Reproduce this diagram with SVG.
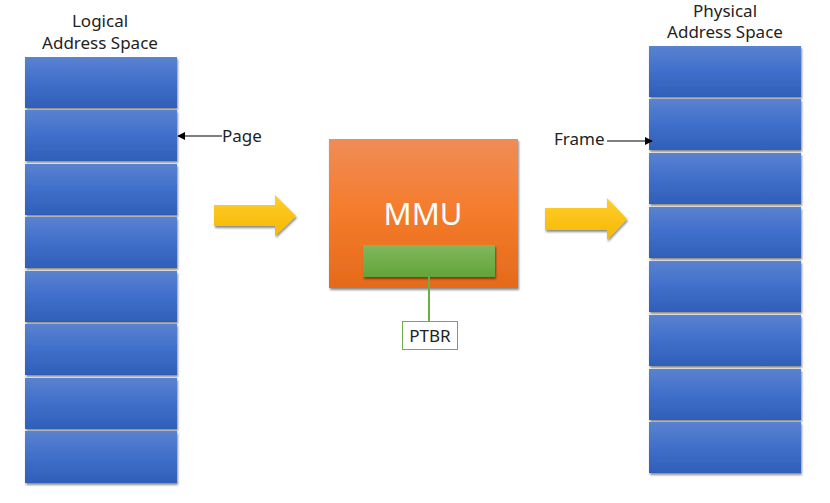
<svg xmlns="http://www.w3.org/2000/svg" width="830" height="503" viewBox="0 0 830 503">
<defs>
<linearGradient id="blue" x1="0" y1="0" x2="0" y2="1">
<stop offset="0" stop-color="#5a82cf"/>
<stop offset="0.5" stop-color="#3f6fcb"/>
<stop offset="1" stop-color="#2f5fb8"/>
</linearGradient>
<linearGradient id="orange" x1="0" y1="0" x2="0" y2="1">
<stop offset="0" stop-color="#f08c58"/>
<stop offset="0.5" stop-color="#f47b2a"/>
<stop offset="1" stop-color="#e56a1c"/>
</linearGradient>
<linearGradient id="green" x1="0" y1="0" x2="0" y2="1">
<stop offset="0" stop-color="#80b85c"/>
<stop offset="1" stop-color="#63a43a"/>
</linearGradient>
<linearGradient id="yellow" x1="0" y1="0" x2="0" y2="1">
<stop offset="0" stop-color="#ffce2e"/>
<stop offset="1" stop-color="#f5b800"/>
</linearGradient>
<filter id="sh" x="-10%" y="-10%" width="130%" height="130%">
<feDropShadow dx="1" dy="2" stdDeviation="1.2" flood-color="#000" flood-opacity="0.45"/>
</filter>
<marker id="ah" viewBox="0 0 10 10" refX="9" refY="5" markerWidth="8" markerHeight="8" markerUnits="userSpaceOnUse" orient="auto">
<path d="M0,0 L10,5 L0,10 z" fill="#000"/>
</marker>
</defs>
<style>
text{font-family:"Noto Sans","Open Sans","DejaVu Sans",sans-serif;fill:#222;}
.lbl{font-size:17px;text-anchor:middle;}
.blk{fill:url(#blue);filter:url(#sh);}
</style>
<g id="logical">
<text class="lbl" x="100" y="27">Logical</text>
<text class="lbl" x="100" y="49">Address Space</text>
<rect class="blk" x="25" y="57" width="152" height="51"/>
<rect class="blk" x="25" y="110" width="152" height="51"/>
<rect class="blk" x="25" y="164" width="152" height="51"/>
<rect class="blk" x="25" y="217" width="152" height="51"/>
<rect class="blk" x="25" y="271" width="152" height="51"/>
<rect class="blk" x="25" y="324" width="152" height="51"/>
<rect class="blk" x="25" y="378" width="152" height="51"/>
<rect class="blk" x="25" y="431" width="152" height="52"/>
</g>
<g id="physical">
<text class="lbl" x="725" y="17">Physical</text>
<text class="lbl" x="725" y="38">Address Space</text>
<rect class="blk" x="649" y="46" width="152" height="51"/>
<rect class="blk" x="649" y="99" width="152" height="51"/>
<rect class="blk" x="649" y="153" width="152" height="51"/>
<rect class="blk" x="649" y="207" width="152" height="51"/>
<rect class="blk" x="649" y="261" width="152" height="51"/>
<rect class="blk" x="649" y="315" width="152" height="51"/>
<rect class="blk" x="649" y="369" width="152" height="51"/>
<rect class="blk" x="649" y="422" width="152" height="51"/>
</g>
<g id="mmu">
<rect x="329" y="139" width="189" height="149" fill="url(#orange)" filter="url(#sh)"/>
<text x="423" y="225" font-size="31" text-anchor="middle" style="fill:#fff">MMU</text>
<rect x="363" y="245" width="132" height="32" fill="url(#green)" filter="url(#sh)"/>
</g>
<g id="ptbr">
<rect x="402.5" y="321.5" width="55" height="28" fill="#fff" stroke="#70ad47" stroke-width="1"/>
<text x="430" y="342" font-size="17" text-anchor="middle">PTBR</text>
</g>
<g id="page-label">
<text x="222" y="142" font-size="17">Page</text>
</g>
<g id="frame-label">
<text x="554" y="145" font-size="17">Frame</text>
</g>
<g id="connectors">
<path d="M214,205 H275 V195 L296,216 L275,236 V226 H214 Z" fill="url(#yellow)" filter="url(#sh)"/>
<path d="M545,208 H607 V198 L627,219 L607,240 V230 H545 Z" fill="url(#yellow)" filter="url(#sh)"/>
<line x1="222" y1="136" x2="178" y2="136" stroke="#000" stroke-width="1.2" marker-end="url(#ah)"/>
<line x1="607" y1="141" x2="652" y2="141" stroke="#000" stroke-width="1.2" marker-end="url(#ah)"/>
<line x1="429" y1="277" x2="429" y2="321" stroke="#70ad47" stroke-width="2"/>
</g>
</svg>
